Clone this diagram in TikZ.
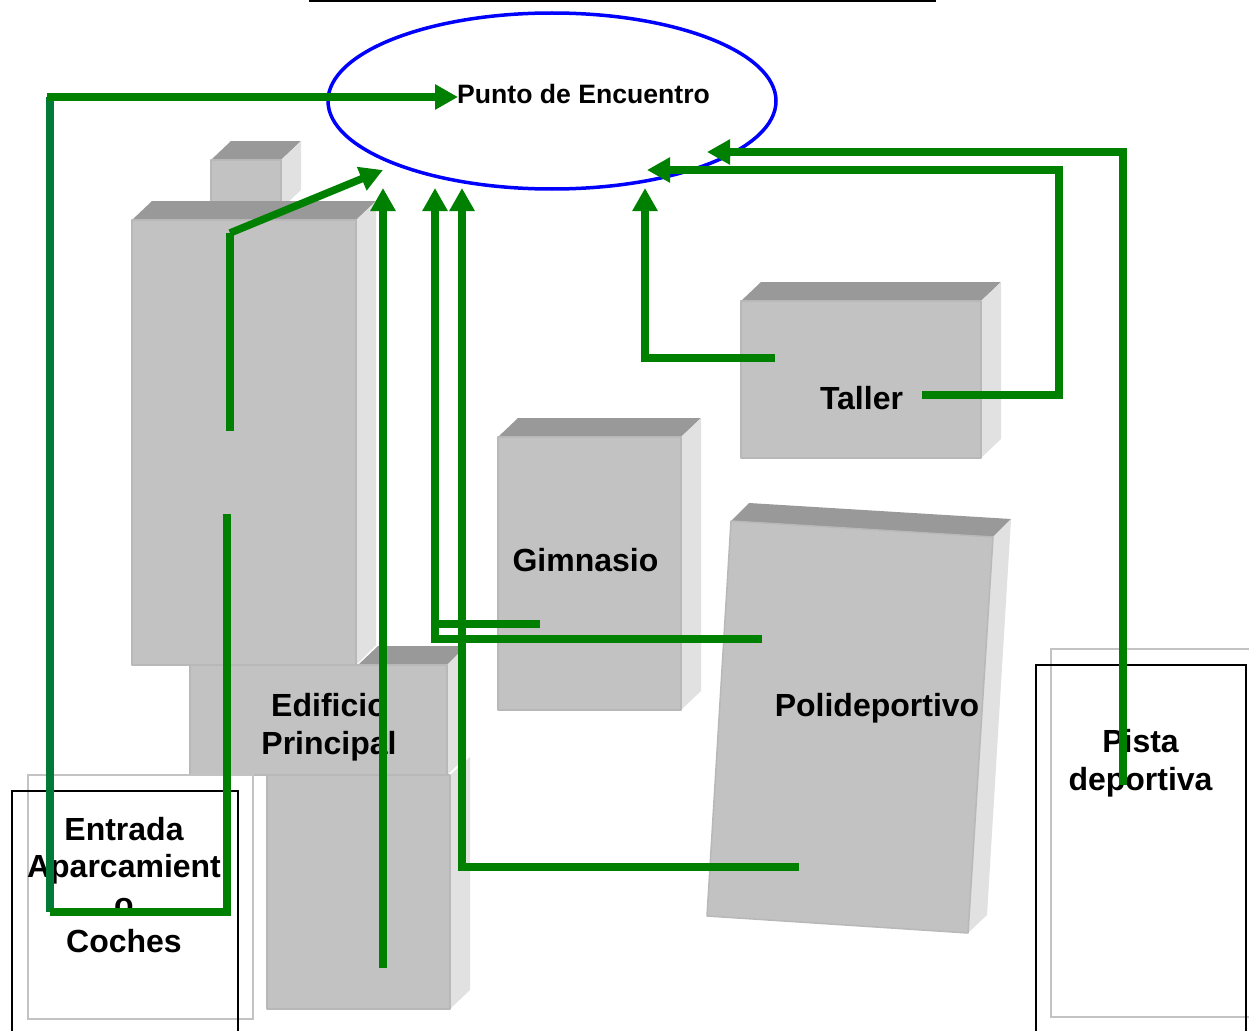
\documentclass[tikz,border=0pt]{standalone}
\usepackage{fontspec}
\setmainfont{Liberation Sans}
\usetikzlibrary{arrows.meta,shapes.geometric}
\definecolor{frontc}{HTML}{C2C2C2}
\definecolor{edgec}{HTML}{B8B8B8}
\definecolor{topc}{HTML}{999999}
\definecolor{sidec}{HTML}{E1E1E1}
\definecolor{routec}{HTML}{008000}
\definecolor{routeb}{HTML}{007A36}
\tikzset{
  front/.style={fill=frontc,draw=edgec,line width=1.5pt,line join=round},
  topface/.style={fill=topc,draw=none},
  sideface/.style={fill=sidec,draw=none},
  ghost/.style={draw=edgec!85!white,line width=2pt},
  plot/.style={draw=black,line width=1.6pt},
  route/.style={draw=routec,line width=7.5pt,line join=miter},
  routearrow/.style={route,-{Triangle[length=23pt,width=24pt]}},
  big/.style={font=\bfseries\fontsize{32}{37.5}\selectfont,align=center,inner sep=0pt},
  bigwide/.style={font=\bfseries\fontsize{32}{38.5}\selectfont,align=center,inner sep=0pt},
  small/.style={font=\bfseries\fontsize{26.6}{31}\selectfont,align=center,inner sep=0pt},
}
\begin{document}
\begin{tikzpicture}[x=1pt,y=-1pt]
\useasboundingbox (0,0) rectangle (1249,1030);
% title rule
\draw[black,line width=1.8pt] (309,1) -- (936,1);
% small roof block
\fill[topface] (211,160) -- (231,141) -- (301,141) -- (281,160) -- cycle;
\fill[sideface] (281,160) -- (301,141) -- (301,190) -- (281,209) -- cycle;
\draw[front] (211,205) -- (211,160) -- (281,160) -- (281,205) -- cycle;
% lower block of main building
\fill[sideface] (450,775) -- (470,757) -- (470,990) -- (450,1009) -- cycle;
\draw[front] (267,775) rectangle (450,1009);
% middle block
\fill[topface] (358,665) -- (378,646) -- (466,646) -- (447,665) -- cycle;
\fill[sideface] (447,665) -- (466,646) -- (466,757) -- (447,775) -- cycle;
\draw[front] (190,665) rectangle (447,775);
% upper block
\fill[topface] (132,220) -- (152,201) -- (377,201) -- (357,220) -- cycle;
\fill[sideface] (356,220) -- (376,201) -- (376,645) -- (356,665) -- cycle;
\draw[front] (132,220) rectangle (356,665);
% gimnasio
\fill[topface] (498,437) -- (518,418) -- (701,418) -- (681,437) -- cycle;
\fill[sideface] (681,437) -- (701,418) -- (701,691) -- (681,710) -- cycle;
\draw[front] (498,437) rectangle (681,710);
% taller
\fill[topface] (741,301) -- (761,282) -- (1001,282) -- (981,301) -- cycle;
\fill[sideface] (981,301) -- (1001,282) -- (1001,439) -- (981,458) -- cycle;
\draw[front] (741,301) rectangle (981,458);
% polideportivo
\fill[topface] (731,521) -- (749,503) -- (1011,519) -- (993,537) -- cycle;
\fill[sideface] (993,537) -- (1011,519) -- (987,915) -- (968,933) -- cycle;
\draw[front] (731,521) -- (993,537) -- (968,933) -- (707,916) -- cycle;
% plots
\draw[ghost] (28,775) rectangle (253,1019);
\draw[plot] (12,1031) -- (12,791) -- (238,791) -- (238,1031);
\draw[ghost] (1250,649) -- (1051,649) -- (1051,1017) -- (1250,1017);
\draw[plot] (1036,1031) -- (1036,665) -- (1246,665) -- (1246,1031);
% meeting point
\node[draw=blue,line width=3.5pt,ellipse,minimum width=448pt,minimum height=176pt,inner sep=0pt] (punto) at (552,101) {};
% labels
\node[small] (lpunto) at (583.5,94) {Punto de Encuentro};
\node[big] (ltaller) at (861.5,398) {Taller};
\node[big] (lgim) at (585.5,560) {Gimnasio};
\node[big] (lpoli) at (877,708) {Polideportivo};
\node[big] (ledif) at (329,727) {Edificio\\Principal};
\node[bigwide] (lpista) at (1140.5,763) {Pista\\deportiva};
\node[big] (lentrada) at (124,885) {Entrada\\Aparcamient\\o\\Coches};
% connector ends
\coordinate (aparc) at (50,912);
\coordinate (aparcR) at (227,912);
\coordinate (edifA) at (227,514);
\coordinate (edifB) at (230,431);
\coordinate (edifC) at (230,233);
\coordinate (puntoA) at (383,170);
\coordinate (low) at (383,968);
\coordinate (puntoB) at (383,188);
\coordinate (gimEnd) at (540,624);
\coordinate (poliA) at (762,639);
\coordinate (puntoC) at (435,188);
\coordinate (poliB) at (799,867);
\coordinate (puntoD) at (462,188);
\coordinate (tallerA) at (775,358);
\coordinate (puntoE) at (645,188);
\coordinate (tallerB) at (922,395);
\coordinate (puntoF) at (647,170);
\coordinate (pista) at (1123,785);
\coordinate (puntoG) at (707,152);
\coordinate (puntoH) at (458,97);
% routes
\draw[route,draw=routeb] (aparc) -- (50,97);
\draw[routearrow] (47,97) -- (puntoH);
\draw[route] (aparc) -- (aparcR) -- (edifA);
\draw[route] (edifB) -- (edifC);
\draw[routearrow] (edifC) -- (puntoA);
\draw[routearrow] (low) -- (puntoB);
\draw[routearrow] (gimEnd) -- (435,624) -- (puntoC);
\draw[route] (poliA) -- (435,639) -- (435,620);
\draw[routearrow] (poliB) -- (462,867) -- (puntoD);
\draw[routearrow] (tallerA) -- (645,358) -- (puntoE);
\draw[routearrow] (tallerB) -- (1059,395) -- (1059,170) -- (puntoF);
\draw[routearrow] (pista) -- (1123,152) -- (puntoG);
\end{tikzpicture}
\end{document}
